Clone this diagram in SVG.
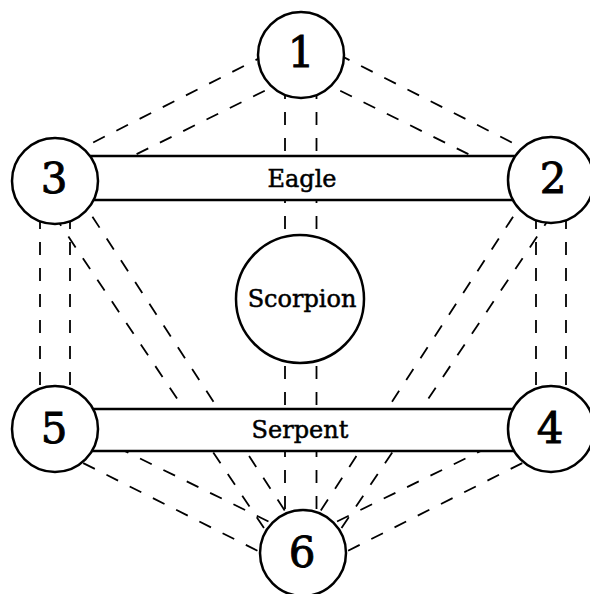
<svg xmlns="http://www.w3.org/2000/svg" width="590" height="594" viewBox="0 0 590 594">
  <style>
    .link { stroke: #000; stroke-width: 1.8; stroke-dasharray: 13 13; fill: none; }
    .node { fill: #fff; stroke: #000; stroke-width: 2.5; }
    .bar { fill: #fff; stroke: #000; stroke-width: 2.5; }
    .num { font-family: "DejaVu Serif", serif; font-size: 42px; text-anchor: middle; fill: #000; stroke: #000; stroke-width: 0.9; }
    .lbl { font-family: "DejaVu Serif", serif; font-size: 24px; text-anchor: middle; fill: #000; stroke: #000; stroke-width: 0.5; }
  </style>
  <rect width="590" height="594" fill="#fff"/>

  <!-- double dashed connectors between node pairs -->
  <g id="connectors">
    <!-- 1 - 3 -->
    <line class="link" x1="70" y1="154.2" x2="280" y2="47.7"/>
    <line class="link" x1="90" y1="177.2" x2="285" y2="80.7"/>
    <!-- 1 - 2 -->
    <line class="link" x1="535" y1="154.2" x2="325" y2="47.7"/>
    <line class="link" x1="515" y1="177.2" x2="320" y2="80.7"/>
    <!-- 1 - Scorpion -->
    <line class="link" x1="285" y1="60" x2="285" y2="260"/>
    <line class="link" x1="316.5" y1="60" x2="316.5" y2="260"/>
    <!-- Scorpion - 6 -->
    <line class="link" x1="285" y1="340" x2="285" y2="550"/>
    <line class="link" x1="316.5" y1="340" x2="316.5" y2="550"/>
    <!-- 3 - 5 -->
    <line class="link" x1="40" y1="190" x2="40" y2="420"/>
    <line class="link" x1="70" y1="190" x2="70" y2="420"/>
    <!-- 2 - 4 -->
    <line class="link" x1="536" y1="190" x2="536" y2="420"/>
    <line class="link" x1="566" y1="190" x2="566" y2="420"/>
    <!-- 3 - 6 -->
    <line class="link" x1="78.2" y1="195" x2="297.5" y2="530"/>
    <line class="link" x1="53.9" y1="215" x2="272" y2="540"/>
    <!-- 2 - 6 -->
    <line class="link" x1="527.3" y1="195" x2="308" y2="530"/>
    <line class="link" x1="551.6" y1="215" x2="333.5" y2="540"/>
    <!-- 5 - 6 -->
    <line class="link" x1="70" y1="424.2" x2="290" y2="532"/>
    <line class="link" x1="60" y1="451.4" x2="290" y2="567.1"/>
    <!-- 4 - 6 -->
    <line class="link" x1="535.5" y1="424.2" x2="315.5" y2="532"/>
    <line class="link" x1="545.5" y1="451.4" x2="315.5" y2="567.1"/>
  </g>

  <!-- labelled bars -->
  <g id="eagle">
    <rect class="bar" x="55" y="156" width="496" height="44"/>
    <text class="lbl" x="302" y="187">Eagle</text>
  </g>
  <g id="serpent">
    <rect class="bar" x="55" y="409" width="496" height="42"/>
    <text class="lbl" x="300" y="438">Serpent</text>
  </g>

  <!-- nodes -->
  <g id="node-1">
    <circle class="node" cx="301" cy="55" r="43"/>
    <text class="num" x="301" y="67">1</text>
  </g>
  <g id="node-2">
    <circle class="node" cx="551" cy="180" r="43"/>
    <text class="num" x="553" y="193">2</text>
  </g>
  <g id="node-3">
    <circle class="node" cx="55" cy="181" r="43"/>
    <text class="num" x="54" y="193">3</text>
  </g>
  <g id="node-4">
    <circle class="node" cx="551" cy="429" r="43"/>
    <text class="num" x="550" y="443">4</text>
  </g>
  <g id="node-5">
    <circle class="node" cx="55" cy="429" r="43"/>
    <text class="num" x="54" y="443">5</text>
  </g>
  <g id="node-6">
    <circle class="node" cx="303" cy="553" r="43"/>
    <text class="num" x="302" y="567">6</text>
  </g>
  <g id="scorpion">
    <circle class="node" cx="300" cy="299" r="64"/>
    <text class="lbl" x="302" y="307">Scorpion</text>
  </g>
</svg>
